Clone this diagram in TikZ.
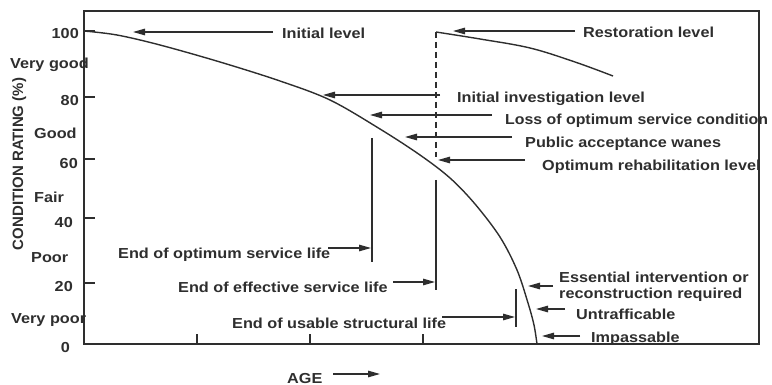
\documentclass[tikz,border=0pt]{standalone}
\usepackage{fontspec}
\usepackage{graphicx}
\setmainfont{Liberation Sans}
\usetikzlibrary{arrows.meta}
\definecolor{ink}{HTML}{2E2E2E}
\newcommand{\wtxt}[1]{\scalebox{1.12}[1]{#1}}
\tikzset{
  lbl/.style={inner sep=0pt, text height=10.4pt, text depth=0pt, text=ink,
    font=\fontsize{14.5}{17}\selectfont\bfseries},
  lw/.style={lbl, anchor=west},
  le/.style={lbl, anchor=east},
  pointer/.style={draw=ink, line width=1.3pt, -{Triangle[length=12pt,width=6.5pt]}},
  guide/.style={draw=ink, line width=1.3pt},
  curveline/.style={draw=ink, line width=1.4pt},
  tickline/.style={draw=ink, line width=1.4pt}
}
\begin{document}
\begin{tikzpicture}[x=1pt,y=-1pt]
\useasboundingbox (0,0) rectangle (772,385);
% frame
\draw[draw=ink, line width=1.7pt] (84,11) rectangle (759,344);
% y ticks
\foreach \yy in {31,97,159,218,283} \draw[tickline] (84,\yy) -- (95,\yy);
% x ticks
\foreach \xx in {197,310,423} \draw[tickline] (\xx,344) -- (\xx,334);
% y labels
\node[le] (n100) at (79,33) {\wtxt{100}};
\node[lw] (vg) at (10,63) {\wtxt{Very good}};
\node[le] (n80) at (79,100) {\wtxt{80}};
\node[lw] (gd) at (34,133) {\wtxt{Good}};
\node[le] (n60) at (78,163) {\wtxt{60}};
\node[lw] (fr) at (34,197) {\wtxt{Fair}};
\node[le] (n40) at (73,222) {\wtxt{40}};
\node[lw] (pr) at (31,257) {\wtxt{Poor}};
\node[le] (n20) at (73,286) {\wtxt{20}};
\node[lw] (vp) at (11,318) {\wtxt{Very poor}};
\node[le] (n0) at (70,347) {\wtxt{0}};
\node[lbl, rotate=90, font=\fontsize{15}{17}\selectfont\bfseries] (ylab) at (18,164) {CONDITION RATING (\%)};
% deterioration curve
\draw[curveline] plot[smooth, tension=0.55] coordinates {(84,31) (117,35) (160,45) (220,62) (280,81) (330,100) (380,129) (420,155) (450,178) (475,204) (500,237) (517,270) (528,303) (534,325) (537,344)};
% restoration
\draw[curveline] plot[smooth, tension=0.6] coordinates {(436,32) (480,39) (530,48) (575,62) (613,76)};
\draw[guide, dash pattern=on 6pt off 4pt] (436,32) -- (436,157);
\draw[guide] (436,180) -- (436,290);
\draw[guide] (372,138) -- (372,262);
\draw[guide] (516,289) -- (516,327);
% labels with pointers
\node[lw] (t1) at (282,33) {\wtxt{Initial level}};
\coordinate (s1) at (273,32); \coordinate (h1) at (133,32);
\draw[pointer] (s1) -- (h1);
\node[lw] (t2) at (583,32) {\wtxt{Restoration level}};
\coordinate (s2) at (575,31); \coordinate (h2) at (453,31);
\draw[pointer] (s2) -- (h2);
\node[lw] (t3) at (457,97) {\wtxt{Initial investigation level}};
\coordinate (s3) at (440,95); \coordinate (h3) at (323,95);
\draw[pointer] (s3) -- (h3);
\node[lw] (t4) at (505,119) {\scalebox{1.095}[1]{Loss of optimum service condition}};
\coordinate (s4) at (492,115); \coordinate (h4) at (370,115);
\draw[pointer] (s4) -- (h4);
\node[lw] (t5) at (525,142) {\wtxt{Public acceptance wanes}};
\coordinate (s5) at (512,137); \coordinate (h5) at (405,137);
\draw[pointer] (s5) -- (h5);
\node[lw] (t6) at (542,165) {\wtxt{Optimum rehabilitation level}};
\coordinate (s6) at (525,160); \coordinate (h6) at (438,160);
\draw[pointer] (s6) -- (h6);
\node[lw] (t7) at (118,253) {\wtxt{End of optimum service life}};
\coordinate (s7) at (328,248); \coordinate (h7) at (371,248);
\draw[pointer] (s7) -- (h7);
\node[lw] (t8) at (178,287) {\wtxt{End of effective service life}};
\coordinate (s8) at (393,282); \coordinate (h8) at (435,282);
\draw[pointer] (s8) -- (h8);
\node[lw] (t9) at (232,323) {\wtxt{End of usable structural life}};
\coordinate (s9) at (442,317); \coordinate (h9) at (515,317);
\draw[pointer] (s9) -- (h9);
\node[lw] (t10a) at (559,277) {\wtxt{Essential intervention or}};
\node[lw] (t10b) at (559,293) {\wtxt{reconstruction required}};
\coordinate (s10) at (553,286); \coordinate (h10) at (528,286);
\draw[pointer] (s10) -- (h10);
\node[lw] (t11) at (576,314) {\wtxt{Untrafficable}};
\coordinate (s11) at (565,309); \coordinate (h11) at (536,309);
\draw[pointer] (s11) -- (h11);
\node[lw] (t12) at (591,337) {\wtxt{Impassable}};
\coordinate (s12) at (580,336); \coordinate (h12) at (542,336);
\draw[pointer] (s12) -- (h12);
\node[lw] (age) at (287,378) {\wtxt{AGE}};
\coordinate (s13) at (333,374); \coordinate (h13) at (380,374);
\draw[pointer] (s13) -- (h13);
\end{tikzpicture}
\end{document}
